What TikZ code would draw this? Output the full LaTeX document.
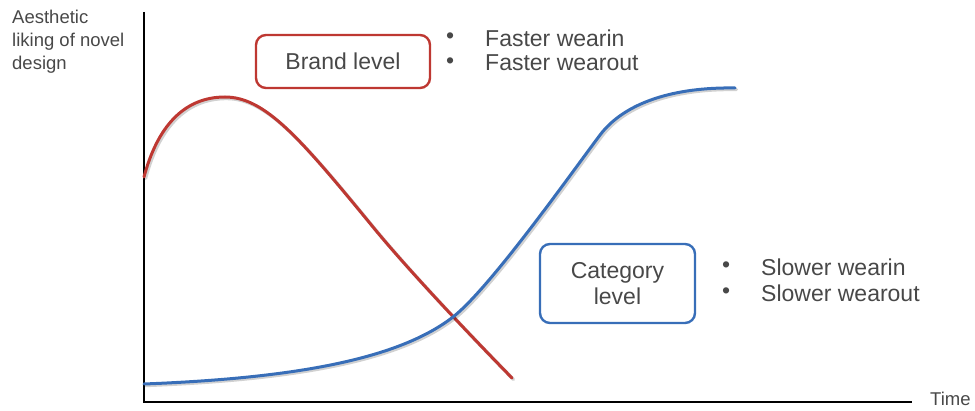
\documentclass[tikz,border=0pt]{standalone}
\usepackage{fontspec}
\setmainfont{Liberation Sans}
\definecolor{brandred}{RGB}{190,56,50}
\definecolor{catblue}{RGB}{56,110,184}
\definecolor{txtgray}{RGB}{72,72,72}
\begin{document}
\begin{tikzpicture}[x=1pt,y=-1pt,
  every node/.style={text=txtgray, inner sep=0pt},
  maintext/.style={font=\fontsize{23}{26}\selectfont},
  axistext/.style={font=\fontsize{18.5}{23}\selectfont, align=left},
  levelbox/.style={draw, line width=2.4pt, rounded corners=10pt, align=center},
  curve/.style={line width=3pt, line cap=round, line join=round},
  shadowline/.style={line width=3.4pt, black, opacity=0.18, line cap=round},
  axis/.style={line width=1.8pt, black}]
  \useasboundingbox (0,0) rectangle (975,411);

  % axes
  \coordinate (origin) at (144,402);
  \coordinate (ytop) at (144,12);
  \coordinate (xend) at (912,402);
  \draw[axis] (ytop) -- (origin) -- (xend);
  \node[axistext, anchor=north west] (ylab) at (12,10)
    {Aesthetic\\liking of novel\\design};
  \node[axistext, anchor=west] (xlab) at (930,399) {Time};

  % brand-level curve: quick rise, quick fall
  \def\brandpath{(144,177) .. controls (157,128) and (183,97) .. (225,97)
    .. controls (265,97) and (300,138) .. (373,227)
    .. controls (410,272) and (470,335) .. (512,378)}
  \draw[shadowline, xshift=1.5pt, yshift=-1.5pt] \brandpath;
  \draw[curve, brandred] \brandpath;

  % category-level curve: slow S-shaped rise
  \def\catpath{(144,384) .. controls (300,378) and (400,358) .. (453,317)
    .. controls (490,288) and (570,175) .. (600,135)
    .. controls (625,102) and (675,87) .. (735,88)}
  \draw[shadowline, xshift=1.5pt, yshift=-1.5pt] \catpath;
  \draw[curve, catblue] \catpath;

  % level boxes
  \node[levelbox, maintext, draw=brandred, minimum width=174pt, minimum height=53pt]
    (brand) at (343,61.5) {Brand level};
  \node[levelbox, maintext, draw=catblue, minimum width=155pt, minimum height=79pt]
    (category) at (617.5,283.5) {Category\\level};

  % bullet notes
  \node[maintext, anchor=west] (b1) at (446,38) {•};
  \node[maintext, anchor=west] (f1) at (485,38) {Faster wearin};
  \node[maintext, anchor=west] (b2) at (446,63) {•};
  \node[maintext, anchor=west] (f2) at (485,63) {Faster wearout};
  \node[maintext, anchor=west] (b3) at (722,267) {•};
  \node[maintext, anchor=west] (s1) at (761,267) {Slower wearin};
  \node[maintext, anchor=west] (b4) at (722,293) {•};
  \node[maintext, anchor=west] (s2) at (761,293) {Slower wearout};
\end{tikzpicture}
\end{document}
